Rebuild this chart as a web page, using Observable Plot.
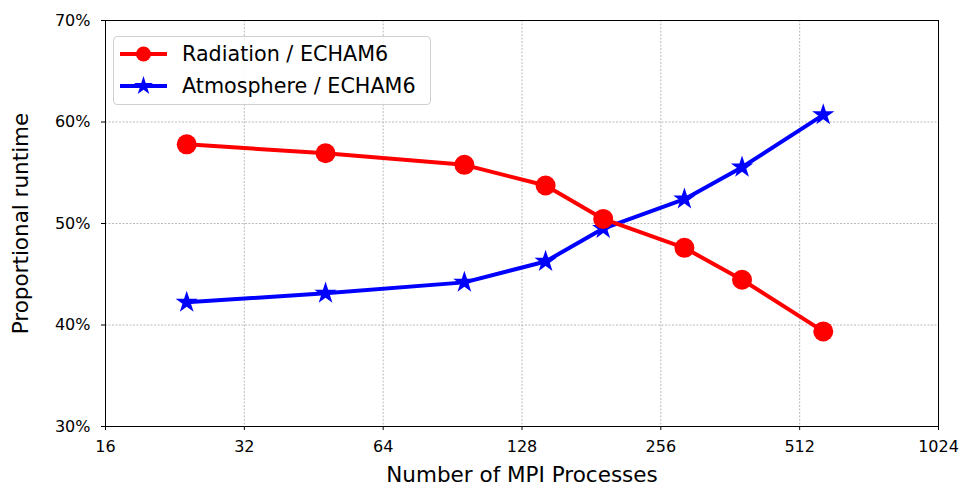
<!DOCTYPE html>
<html>
<head>
<meta charset="utf-8">
<script src="https://cdn.jsdelivr.net/npm/d3@7"></script>
<script src="https://cdn.jsdelivr.net/npm/@observablehq/plot@0.6"></script>
<style>
  html, body { margin: 0; padding: 0; background: #fff; }
  #wrap { position: relative; width: 961px; height: 486px; font-family: "DejaVu Sans", sans-serif; }
  #legend { position: absolute; left: 113px; top: 36px; width: 316px; height: 67px;
    border: 1px solid #d0d0d0; border-radius: 4px; background: rgba(255,255,255,0.85); }
  .row { position: absolute; left: 0; height: 30px; display: flex; align-items: center; }
  .row span { font-size: 20.7px; color: #000; }
</style>
</head>
<body>
<div id="wrap"></div>
<script>
const procs = [24, 48, 96, 144, 192, 288, 384, 576];
const radiation = [57.8, 56.92, 55.78, 53.74, 50.45, 47.6, 44.46, 39.37];
const atmosphere = [42.23, 43.12, 44.2, 46.26, 49.5, 52.4, 55.55, 60.7];
const xTicks = [16, 32, 64, 128, 256, 512, 1024];
const yTicks = [30, 40, 50, 60, 70];
const seriesNames = ["Radiation / ECHAM6", "Atmosphere / ECHAM6"];
const seriesColors = ["#ff0000", "#0000ff"];

const rad = procs.map((p, i) => ({x: p, y: radiation[i]}));
const atm = procs.map((p, i) => ({x: p, y: atmosphere[i]}));

const chart = Plot.plot({
  width: 961, height: 486,
  marginLeft: 105, marginRight: 23, marginTop: 20, marginBottom: 60,
  style: {fontFamily: "DejaVu Sans, sans-serif", background: "#fff"},
  x: {type: "log", base: 2, domain: [16, 1024]},
  y: {domain: [30, 70]},
  marks: [
    Plot.gridX(xTicks, {stroke: "#aaa", strokeOpacity: 1, strokeWidth: 0.8, strokeDasharray: "2,1.5"}),
    Plot.gridY(yTicks, {stroke: "#aaa", strokeOpacity: 1, strokeWidth: 0.8, strokeDasharray: "2,1.5"}),
    Plot.axisX({ticks: xTicks, tickFormat: d => String(d), tickSize: 4, tickPadding: 10, fontSize: 16,
      label: "Number of MPI Processes", labelAnchor: "center", labelOffset: 55, labelArrow: "none"}),
    Plot.axisY({ticks: yTicks, tickFormat: d => d + "%", tickSize: 4, tickPadding: 11, fontSize: 16,
      label: "Proportional runtime", labelAnchor: "center", labelOffset: 93, labelArrow: "none"}),
    Plot.frame({stroke: "#000", strokeWidth: 1}),
    Plot.line(atm, {x: "x", y: "y", stroke: seriesColors[1], strokeWidth: 4}),
    Plot.dot(atm, {x: "x", y: "y", symbol: "star", r: 7, fill: seriesColors[1], stroke: "none"}),
    Plot.line(rad, {x: "x", y: "y", stroke: seriesColors[0], strokeWidth: 4}),
    Plot.dot(rad, {x: "x", y: "y", symbol: "circle", r: 10, fill: seriesColors[0], stroke: "none"})
  ]
});
chart.querySelectorAll("[aria-label='x-axis label'] text, [aria-label='y-axis label'] text").forEach(t => {
  t.setAttribute("font-size", "21.5");
  t.style.fontSize = "21.5px";
});
const wrap = document.getElementById("wrap");
wrap.appendChild(chart);

// legend
const legend = document.createElement("div");
legend.id = "legend";
const symbols = ["circle", "star"];
seriesNames.forEach((name, i) => {
  const row = document.createElement("div");
  row.className = "row";
  row.style.top = (i === 0 ? 2 : 34) + "px";
  const svg = d3.create("svg").attr("width", 55).attr("height", 30).style("margin-left", "6px");
  svg.append("line").attr("x1", 0).attr("x2", 47).attr("y1", 15).attr("y2", 15)
    .attr("stroke", seriesColors[i]).attr("stroke-width", 4);
  svg.append("path").attr("transform", "translate(23.5,15)")
    .attr("d", d3.symbol(symbols[i] === "circle" ? d3.symbolCircle : d3.symbolStar, symbols[i] === "circle" ? 177 : 110)())
    .attr("fill", seriesColors[i]);
  row.appendChild(svg.node());
  const sp = document.createElement("span");
  sp.textContent = name;
  sp.style.marginLeft = "7px";
  row.appendChild(sp);
  legend.appendChild(row);
});
wrap.appendChild(legend);
</script>
</body>
</html>
